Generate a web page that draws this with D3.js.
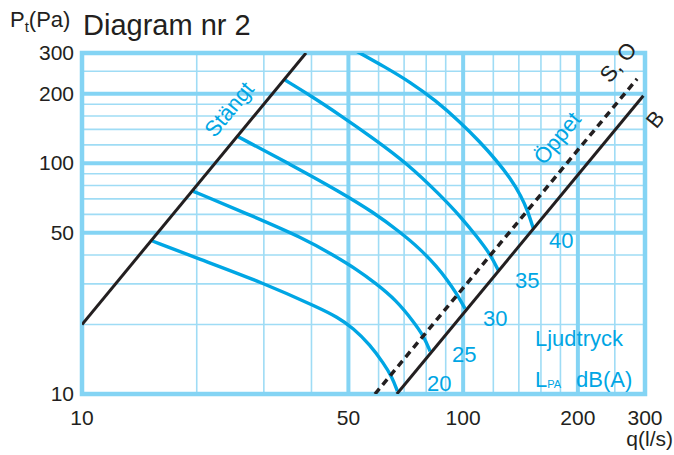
<!DOCTYPE html>
<html>
<head>
<meta charset="utf-8">
<script src="https://cdn.jsdelivr.net/npm/d3@7"></script>
<style>
  body { margin: 0; background: #fff; }
  text { font-family: 'Liberation Sans', Arial, sans-serif; }
</style>
</head>
<body>
<svg width="674" height="455"></svg>
<script>
// tick values
const xTicks = [10, 50, 100, 200, 300];
const yTicks = [10, 50, 100, 200, 300];
const thinGrid = [20, 30, 40, 60, 70, 80, 90, 120, 140, 160, 180, 250];
const thickGrid = [50, 100, 200];

// black lines [q, Pt]
const stangtLine = [[10, 20], [38.7, 300]];
const soLine = [[58.7, 10], [286, 232]];
const bLine = [[67, 10], [297, 196]];

// sound level curves, q (l/s) vs Pt (Pa)
const levels = ['20', '25', '30', '35', '40'];
const curve20 = [[15.3, 46], [20, 38.8], [29.9, 30.3], [42.1, 23.5], [46.6, 21.6], [51.5, 19.3], [57, 16.3], [61.8, 13.6], [65, 11.9], [67.2, 10.3]];
const curve25 = [[19.6, 75.5], [27.6, 59.6], [38, 47.4], [45.6, 40], [52.4, 34.8], [59.1, 30.1], [66.7, 25.5], [73.9, 20.7], [79, 17.7], [81.9, 15.3]];
const curve30 = [[25.7, 130], [35.1, 99.1], [47.6, 75], [58, 61.4], [68.3, 50.3], [77.1, 42.5], [85.5, 35.5], [90.8, 31.2], [95.9, 27.4], [101.2, 23.4]];
const curve35 = [[34.1, 229], [40.2, 194], [47.5, 161.6], [58, 128.5], [71.7, 99], [87, 72.8], [98.2, 59], [108.8, 47.9], [117.7, 40.4], [123.6, 34.4]];
const curve40 = [[52.4, 306], [62.4, 260.8], [72.6, 224.5], [84.4, 187.7], [98.2, 150.7], [110.8, 123.4], [122.1, 103.1], [132.9, 86.2], [142, 72], [148.1, 61.4], [152.7, 52.2]];
const curves = [curve20, curve25, curve30, curve35, curve40];

const svg = d3.select('svg');

const blue = '#00a6e4';
const gridBlue = '#9fdcf5';
const thickBlue = '#84d4f4';
const ink = '#231f20';

const xScale = d3.scaleLog().domain([10, 300]).range([82, 645]);
const yScale = d3.scaleLog().domain([10, 300]).range([394, 53]);

const [x0, x1] = xScale.range();
const [y0, y1] = yScale.range();

// angle of a slope-2 line on screen
const decX = xScale(100) - xScale(10);
const decY = yScale(10) - yScale(100);
const angle = -Math.atan(2 * decY / decX) * 180 / Math.PI;

svg.append('clipPath').attr('id', 'plot')
  .append('rect')
    .attr('x', x0).attr('y', y1)
    .attr('width', x1 - x0).attr('height', y0 - y1);

/* grid */
const grid = svg.append('g');
grid.selectAll('line.vthin').data(thinGrid).join('line')
  .attr('x1', d => xScale(d)).attr('x2', d => xScale(d))
  .attr('y1', y1).attr('y2', y0)
  .attr('stroke', gridBlue).attr('stroke-width', 1.6);
grid.selectAll('line.hthin').data(thinGrid).join('line')
  .attr('y1', d => yScale(d)).attr('y2', d => yScale(d))
  .attr('x1', x0).attr('x2', x1)
  .attr('stroke', gridBlue).attr('stroke-width', 1.6);

const thick = svg.append('g');
thick.selectAll('line.v').data(thickGrid).join('line')
  .attr('x1', d => xScale(d)).attr('x2', d => xScale(d))
  .attr('y1', y1).attr('y2', y0)
  .attr('stroke', thickBlue).attr('stroke-width', 4);
thick.selectAll('line.h').data(thickGrid).join('line')
  .attr('y1', d => yScale(d)).attr('y2', d => yScale(d))
  .attr('x1', x0).attr('x2', x1)
  .attr('stroke', thickBlue).attr('stroke-width', 4);

svg.append('rect')
  .attr('x', x0).attr('y', y1)
  .attr('width', x1 - x0).attr('height', y0 - y1)
  .attr('fill', 'none')
  .attr('stroke', thickBlue)
  .attr('stroke-width', 4.5);

/* lines */
const line = d3.line()
  .x(d => xScale(d[0]))
  .y(d => yScale(d[1]));

const smooth = d3.line()
  .x(d => xScale(d[0]))
  .y(d => yScale(d[1]))
  .curve(d3.curveBasis);

const marks = svg.append('g').attr('clip-path', 'url(#plot)');

marks.selectAll('path.level').data(curves).join('path')
  .attr('class', 'level')
  .attr('d', smooth)
  .attr('fill', 'none')
  .attr('stroke', blue)
  .attr('stroke-width', 3.4);

marks.append('path')
  .attr('d', line(stangtLine))
  .attr('stroke', ink).attr('stroke-width', 3);

marks.append('path')
  .attr('d', line(bLine))
  .attr('stroke', ink).attr('stroke-width', 3);

marks.append('path')
  .attr('d', line(soLine))
  .attr('stroke', ink).attr('stroke-width', 3.5)
  .attr('stroke-dasharray', '7,5');

/* axis labels */
svg.selectAll('text.ytick').data(yTicks).join('text')
  .attr('class', 'ytick')
  .attr('x', 74)
  .attr('y', d => yScale(d))
  .attr('dy', '0.35em')
  .attr('text-anchor', 'end')
  .attr('font-size', 21)
  .attr('fill', ink)
  .text(d => d);

svg.selectAll('text.xtick').data(xTicks).join('text')
  .attr('class', 'xtick')
  .attr('x', d => xScale(d))
  .attr('y', 425)
  .attr('text-anchor', 'middle')
  .attr('font-size', 21)
  .attr('fill', ink)
  .text(d => d);

svg.append('text')
  .attr('x', 673).attr('y', 446)
  .attr('text-anchor', 'end')
  .attr('font-size', 21)
  .attr('fill', ink)
  .text('q(l/s)');

const yLabel = svg.append('text')
  .attr('x', 10).attr('y', 27)
  .attr('font-size', 22)
  .attr('fill', ink);
yLabel.append('tspan').text('P');
yLabel.append('tspan').attr('font-size', 15).attr('dy', 5).text('t');
yLabel.append('tspan').attr('dy', -5).text('(Pa)');

svg.append('text')
  .attr('x', 83).attr('y', 35)
  .attr('font-size', 29)
  .attr('fill', ink)
  .text('Diagram nr 2');

/* level labels */
const levelPos = [[427, 391], [452, 362], [483, 326], [515, 288], [549, 248]];
svg.selectAll('text.lvl').data(levels).join('text')
  .attr('class', 'lvl')
  .attr('x', (d, i) => levelPos[i][0])
  .attr('y', (d, i) => levelPos[i][1])
  .attr('font-size', 22)
  .attr('fill', blue)
  .text(d => d);

svg.append('text')
  .attr('x', 535).attr('y', 346)
  .attr('font-size', 22)
  .attr('fill', blue)
  .text('Ljudtryck');

const lpa = svg.append('text')
  .attr('x', 535).attr('y', 387)
  .attr('font-size', 22)
  .attr('fill', blue);
lpa.append('tspan').text('L');
lpa.append('tspan').attr('font-size', 11).attr('dy', 1).text('PA');
lpa.append('tspan').attr('x', 570).attr('dy', -1).text(' dB(A)');

/* rotated line labels */
const rotLabel = (txt, x, y, color) => {
  svg.append('text')
    .attr('transform', `translate(${x},${y}) rotate(${angle})`)
    .attr('text-anchor', 'middle')
    .attr('font-size', 22)
    .attr('fill', color)
    .text(txt);
};
rotLabel('Stängt', 235, 114, blue);
rotLabel('Öppet', 563, 143, blue);
rotLabel('S, O', 624, 67, ink);
rotLabel('B', 661, 124, ink);
</script>
</body>
</html>
